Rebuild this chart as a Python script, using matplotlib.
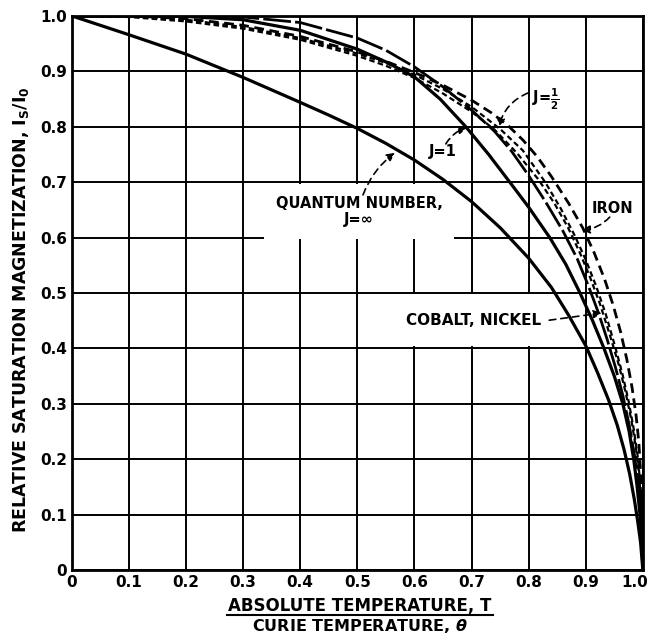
import numpy as np
import matplotlib
matplotlib.use("Agg")
import matplotlib.pyplot as plt
import matplotlib.transforms as mtransforms
from matplotlib.lines import Line2D

plt.rcParams["font.family"] = ["DejaVu Sans"]
plt.rcParams["font.weight"] = "bold"
plt.rcParams["mathtext.fontset"] = "dejavusans"

# T / theta values and relative magnetization
t_jinf = [0, 0.1, 0.2, 0.3, 0.4, 0.45, 0.5, 0.55, 0.6, 0.65, 0.7, 0.75, 0.8, 0.84, 0.87,
          0.9, 0.92, 0.94, 0.955, 0.967, 0.977, 0.985, 0.991, 0.996, 1.0]
m_jinf = [1.0, 0.966, 0.931, 0.889, 0.844, 0.821, 0.797, 0.770, 0.740, 0.705, 0.665,
          0.618, 0.563, 0.510, 0.460, 0.405, 0.358, 0.307, 0.262, 0.218, 0.173, 0.128,
          0.088, 0.05, 0.0]

t_j1 = [0, 0.1, 0.2, 0.3, 0.4, 0.5, 0.55, 0.6, 0.645, 0.69, 0.73, 0.767, 0.8, 0.837,
        0.865, 0.89, 0.912, 0.932, 0.95, 0.965, 0.976, 0.984, 0.99, 0.995, 0.998, 1.0]
m_j1 = [1.0, 1.0, 0.999, 0.993, 0.974, 0.94, 0.917, 0.89, 0.85, 0.80, 0.75, 0.70, 0.655,
        0.60, 0.552, 0.50, 0.45, 0.40, 0.35, 0.30, 0.25, 0.20, 0.15, 0.10, 0.06, 0.0]

t_jhalf = [0, 0.1, 0.2, 0.3, 0.4, 0.5, 0.55, 0.6, 0.65, 0.7, 0.74, 0.77, 0.8, 0.83, 0.86,
           0.885, 0.905, 0.922, 0.937, 0.952, 0.965, 0.976, 0.985, 0.992, 0.997, 1.0]
m_jhalf = [1.0, 1.0, 1.0, 0.998, 0.988, 0.96, 0.938, 0.908, 0.872, 0.83, 0.792, 0.756,
           0.712, 0.664, 0.612, 0.562, 0.512, 0.465, 0.418, 0.366, 0.315, 0.262, 0.21,
           0.155, 0.095, 0.0]

t_cobalt = [0, 0.1, 0.2, 0.3, 0.4, 0.5, 0.55, 0.6, 0.65, 0.7, 0.74, 0.78, 0.817, 0.845,
            0.869, 0.89, 0.907, 0.925, 0.942, 0.958, 0.97, 0.98, 0.988, 0.994, 0.998, 1.0]
m_cobalt = [1.0, 0.998, 0.99, 0.977, 0.957, 0.928, 0.91, 0.888, 0.86, 0.827, 0.795, 0.752,
            0.705, 0.662, 0.618, 0.572, 0.53, 0.48, 0.425, 0.37, 0.32, 0.27, 0.22, 0.165,
            0.10, 0.0]

t_nickel = [0, 0.1, 0.2, 0.3, 0.4, 0.5, 0.55, 0.6, 0.65, 0.7, 0.75, 0.79, 0.829, 0.856,
            0.881, 0.9, 0.918, 0.935, 0.951, 0.964, 0.975, 0.984, 0.991, 0.996, 0.999, 1.0]
m_nickel = [1.0, 0.999, 0.993, 0.98, 0.96, 0.932, 0.915, 0.894, 0.868, 0.836, 0.796, 0.757,
            0.70, 0.653, 0.603, 0.56, 0.513, 0.462, 0.405, 0.355, 0.305, 0.255, 0.205,
            0.15, 0.09, 0.0]

t_iron = [0, 0.1, 0.2, 0.3, 0.4, 0.5, 0.55, 0.6, 0.65, 0.7, 0.735, 0.764, 0.79, 0.815,
          0.84, 0.87, 0.895, 0.915, 0.933, 0.948, 0.961, 0.972, 0.981, 0.988, 0.993,
          0.997, 0.999, 1.0]
m_iron = [1.0, 1.0, 0.995, 0.983, 0.963, 0.935, 0.918, 0.898, 0.875, 0.848, 0.825, 0.802,
          0.776, 0.746, 0.71, 0.662, 0.617, 0.572, 0.525, 0.478, 0.43, 0.38, 0.33, 0.28,
          0.23, 0.16, 0.10, 0.0]

tick_vals = [0, 0.1, 0.2, 0.3, 0.4, 0.5, 0.6, 0.7, 0.8, 0.9, 1.0]
tick_labels = ["0", "0.1", "0.2", "0.3", "0.4", "0.5", "0.6", "0.7", "0.8", "0.9", "1.0"]

fig = plt.figure(figsize=(6.52, 6.35), dpi=100)
ax = fig.add_axes([0.110, 0.102, 0.876, 0.873])

ax.set_xlim(0, 1)
ax.set_ylim(0, 1)
ax.set_xticks(tick_vals)
ax.set_yticks(tick_vals)
ax.set_xticklabels(tick_labels, fontsize=11, fontweight="bold")
ax.set_yticklabels(tick_labels, fontsize=11, fontweight="bold")
ax.tick_params(length=0, pad=3.5)
ax.grid(True, color="black", linewidth=1.4)
ax.set_axisbelow(True)
for sp in ax.spines.values():
    sp.set_linewidth(2.0)

# last x label sits at the right edge; nudge it in so it is not cut
last = ax.get_xticklabels()[-1]
last.set_transform(last.get_transform() +
                   mtransforms.ScaledTranslation(-6 / 72, 0, fig.dpi_scale_trans))

# theory curves
ax.plot(t_jinf, m_jinf, color="black", lw=2.3, zorder=3)
ax.plot(t_j1, m_j1, color="black", lw=2.3, zorder=3)
ax.plot(t_jhalf, m_jhalf, color="black", lw=2.0, dashes=(10, 1.5), zorder=3)
# experimental curves
ax.plot(t_cobalt, m_cobalt, color="black", lw=1.6, dashes=(2.5, 1.5), zorder=3)
ax.plot(t_nickel, m_nickel, color="black", lw=1.6, dashes=(2.5, 1.5), zorder=3)
ax.plot(t_iron, m_iron, color="black", lw=2.0, dashes=(3.5, 2.0), zorder=3)

arrow = dict(arrowstyle="-|>", color="black", lw=1.2, linestyle=(0, (4, 3)),
             mutation_scale=12, shrinkA=0, shrinkB=0)

ax.text(0.503, 0.647, "QUANTUM NUMBER,\nJ=\u221e", ha="center", va="center",
        fontsize=10.5, linespacing=1.1,
        bbox=dict(boxstyle="square,pad=0.8", fc="white", ec="none"), zorder=2)
ax.annotate("", xy=(0.566, 0.753), xytext=(0.51, 0.677),
            arrowprops=dict(arrow, connectionstyle="arc3,rad=-0.15"), zorder=4)

ax.text(0.650, 0.756, "J=1", ha="center", va="center", fontsize=10.5, zorder=4)
ax.annotate("", xy=(0.692, 0.798), xytext=(0.655, 0.769),
            arrowprops=dict(arrow, connectionstyle="arc3,rad=-0.2"), zorder=4)

ax.text(0.806, 0.850, r"J=$\frac{1}{2}$", ha="left", va="center", fontsize=10.5, zorder=4)
ax.annotate("", xy=(0.748, 0.800), xytext=(0.799, 0.861),
            arrowprops=dict(arrow, connectionstyle="arc3,rad=0.25"), zorder=4)

ax.text(0.947, 0.652, "IRON", ha="center", va="center", fontsize=10.5, zorder=4)
ax.annotate("", xy=(0.893, 0.614), xytext=(0.942, 0.637),
            arrowprops=dict(arrow, connectionstyle="arc3,rad=-0.2"), zorder=4)

ax.text(0.704, 0.451, "COBALT, NICKEL", ha="center", va="center", fontsize=11,
        bbox=dict(boxstyle="square,pad=1.2", fc="white", ec="none"), zorder=2)
ax.annotate("", xy=(0.928, 0.464), xytext=(0.836, 0.451),
            arrowprops=arrow, zorder=4)

# axis labels
fig.text(21 / 652, 1 - 310 / 635,
         r"RELATIVE SATURATION MAGNETIZATION, I$_\mathbf{S}$/I$_\mathbf{0}$",
         rotation=90, ha="center", va="center", fontsize=12.5)
fig.text(360 / 652, 1 - 606 / 635, "ABSOLUTE TEMPERATURE, T",
         ha="center", va="center", fontsize=12)
fig.add_artist(Line2D([227 / 652, 493 / 652], [1 - 615 / 635, 1 - 615 / 635],
                      transform=fig.transFigure, color="black", lw=1.5))
fig.text(360 / 652, 1 - 626 / 635, r"CURIE TEMPERATURE, $\boldsymbol{\theta}$",
         ha="center", va="center", fontsize=11.5)

fig.savefig("out.png", dpi=100)
